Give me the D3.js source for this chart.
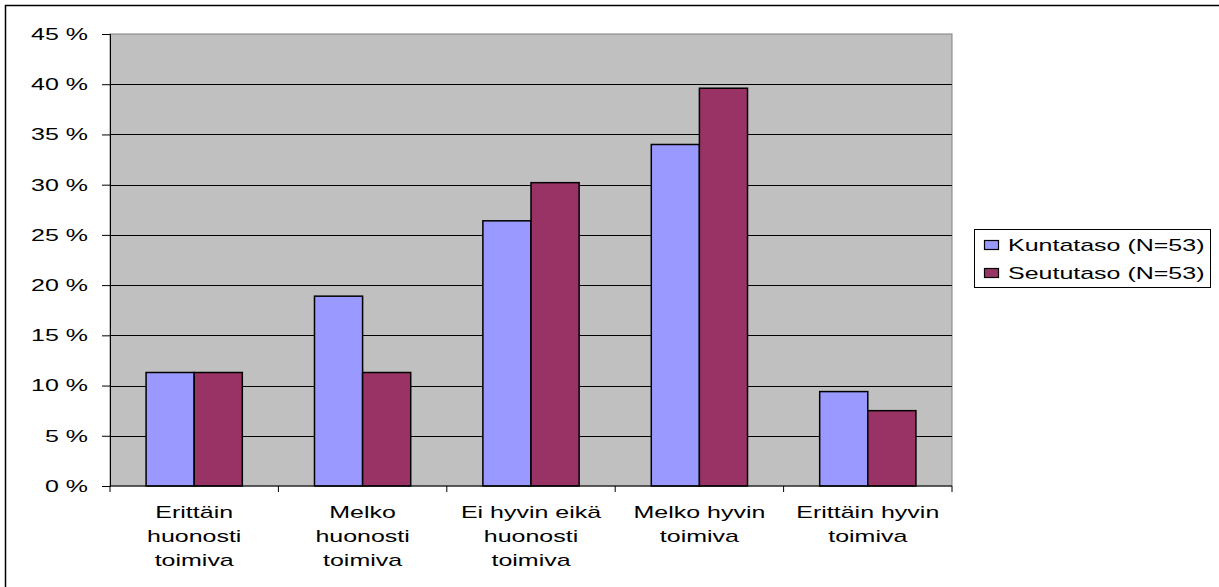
<!DOCTYPE html>
<html>
<head>
<meta charset="utf-8">
<script src="https://cdn.jsdelivr.net/npm/d3@7"></script>
<style>
  body { margin: 0; background: #fff; }
  text { font-family: "Liberation Sans", Arial, sans-serif; fill: #000; font-size: 17px; }
</style>
</head>
<body>
<svg id="chart" width="1219" height="587"></svg>
<script>
// categories, two series (share of respondents, %)
var categories = [
  ['Erittäin', 'huonosti', 'toimiva'],
  ['Melko', 'huonosti', 'toimiva'],
  ['Ei hyvin eikä', 'huonosti', 'toimiva'],
  ['Melko hyvin', 'toimiva'],
  ['Erittäin hyvin', 'toimiva']
];
var seriesNames = ['Kuntataso (N=53)', 'Seututaso (N=53)'];
var kuntataso = [11.3, 18.9, 26.4, 34.0, 9.4];
var seututaso = [11.3, 11.3, 30.2, 39.6, 7.5];
var yTicks = [0, 5, 10, 15, 20, 25, 30, 35, 40, 45];

var colors = ['#9999FF', '#993366'];
var stretchX = 1.47; // the original text is drawn wide
var svg = d3.select('#chart');

var plotL = 110, plotR = 952, plotT = 34, plotB = 486;

function wide(x, y) {
  return 'translate(' + x + ',' + y + ') scale(' + stretchX + ',1)';
}

// outer frame (right/bottom edges lie outside the picture)
svg.append('rect')
  .attr('x', 5.5).attr('y', 5.5)
  .attr('width', 1230).attr('height', 600)
  .attr('fill', 'none').attr('stroke', '#000').attr('stroke-width', 1.5);

var x0 = d3.scaleBand()
  .domain(d3.range(categories.length))
  .range([plotL, plotR]);

// gap width 150% -> both bars take 2/3.5 of a category
var groupW = x0.bandwidth() * 2 / 3.5;
var x1 = d3.scaleBand()
  .domain([0, 1])
  .range([0, groupW]);

var y = d3.scaleLinear().domain([0, 45]).range([plotB, plotT]);

// plot area
svg.append('rect')
  .attr('x', plotL).attr('y', plotT)
  .attr('width', plotR - plotL).attr('height', plotB - plotT)
  .attr('fill', '#C0C0C0').attr('stroke', '#808080');

// gridlines
svg.append('g').selectAll('line')
  .data(yTicks.filter(function(t) { return t > 0 && t < 45; }))
  .enter().append('line')
  .attr('x1', plotL).attr('x2', plotR)
  .attr('y1', function(d) { return Math.round(y(d)) + 0.5; })
  .attr('y2', function(d) { return Math.round(y(d)) + 0.5; })
  .attr('stroke', '#000');

// bars
var values = [kuntataso, seututaso];
var groups = svg.append('g').selectAll('g')
  .data(d3.range(categories.length))
  .enter().append('g')
  .attr('transform', function(i) {
    return 'translate(' + (x0(i) + (x0.bandwidth() - groupW) / 2) + ',0)';
  });

groups.selectAll('rect')
  .data(function(i) { return values.map(function(s, k) { return { k: k, v: s[i] }; }); })
  .enter().append('rect')
  .attr('x', function(d) { return x1(d.k); })
  .attr('width', x1.bandwidth())
  .attr('y', function(d) { return y(d.v); })
  .attr('height', function(d) { return plotB - y(d.v); })
  .attr('fill', function(d) { return colors[d.k]; })
  .attr('stroke', '#000').attr('stroke-width', 1.5);

// y axis
var yAxis = d3.axisLeft(y)
  .tickValues(yTicks)
  .tickSize(8)
  .tickFormat(function(d) { return d + ' %'; });
var ya = svg.append('g')
  .attr('transform', 'translate(' + plotL + ',0)')
  .call(yAxis);
ya.select('.domain').attr('stroke', '#000');
ya.selectAll('.tick line').attr('stroke', '#000');
ya.selectAll('.tick text')
  .attr('x', 0)
  .attr('transform', wide(-22, 0))
  .attr('fill', '#000')
  .style('font-size', '17px')
  .style('font-family', '"Liberation Sans", Arial, sans-serif');

// x axis
var xa = svg.append('g').attr('transform', 'translate(0,' + plotB + ')');
xa.append('line')
  .attr('x1', plotL).attr('x2', plotR)
  .attr('y1', 0).attr('y2', 0)
  .attr('stroke', '#000');
xa.selectAll('line.tk')
  .data(d3.range(categories.length + 1))
  .enter().append('line')
  .attr('class', 'tk')
  .attr('x1', function(i) { return plotL + i * x0.bandwidth(); })
  .attr('x2', function(i) { return plotL + i * x0.bandwidth(); })
  .attr('y1', 0).attr('y2', 6)
  .attr('stroke', '#000');

xa.selectAll('text')
  .data(categories)
  .enter().append('text')
  .attr('transform', function(d, i) { return wide(x0(i) + x0.bandwidth() / 2, 31.5); })
  .attr('text-anchor', 'middle')
  .each(function(lines) {
    var t = d3.select(this);
    lines.forEach(function(l, j) {
      t.append('tspan')
        .attr('x', 0)
        .attr('dy', j === 0 ? 0 : 24.5)
        .text(l);
    });
  });

// legend
var lg = svg.append('g');
lg.append('rect')
  .attr('x', 974.5).attr('y', 229.5)
  .attr('width', 236).attr('height', 58)
  .attr('fill', '#fff').attr('stroke', '#000');
var items = lg.selectAll('g')
  .data(seriesNames)
  .enter().append('g')
  .attr('transform', function(d, i) { return 'translate(984,' + (245 + i * 28) + ')'; });
items.append('rect')
  .attr('x', 0.5).attr('y', -4.5)
  .attr('width', 14).attr('height', 9)
  .attr('fill', function(d, i) { return colors[i]; })
  .attr('stroke', '#000').attr('stroke-width', 1.2);
items.append('text')
  .attr('transform', wide(24, 6))
  .text(function(d) { return d; });
</script>
</body>
</html>
